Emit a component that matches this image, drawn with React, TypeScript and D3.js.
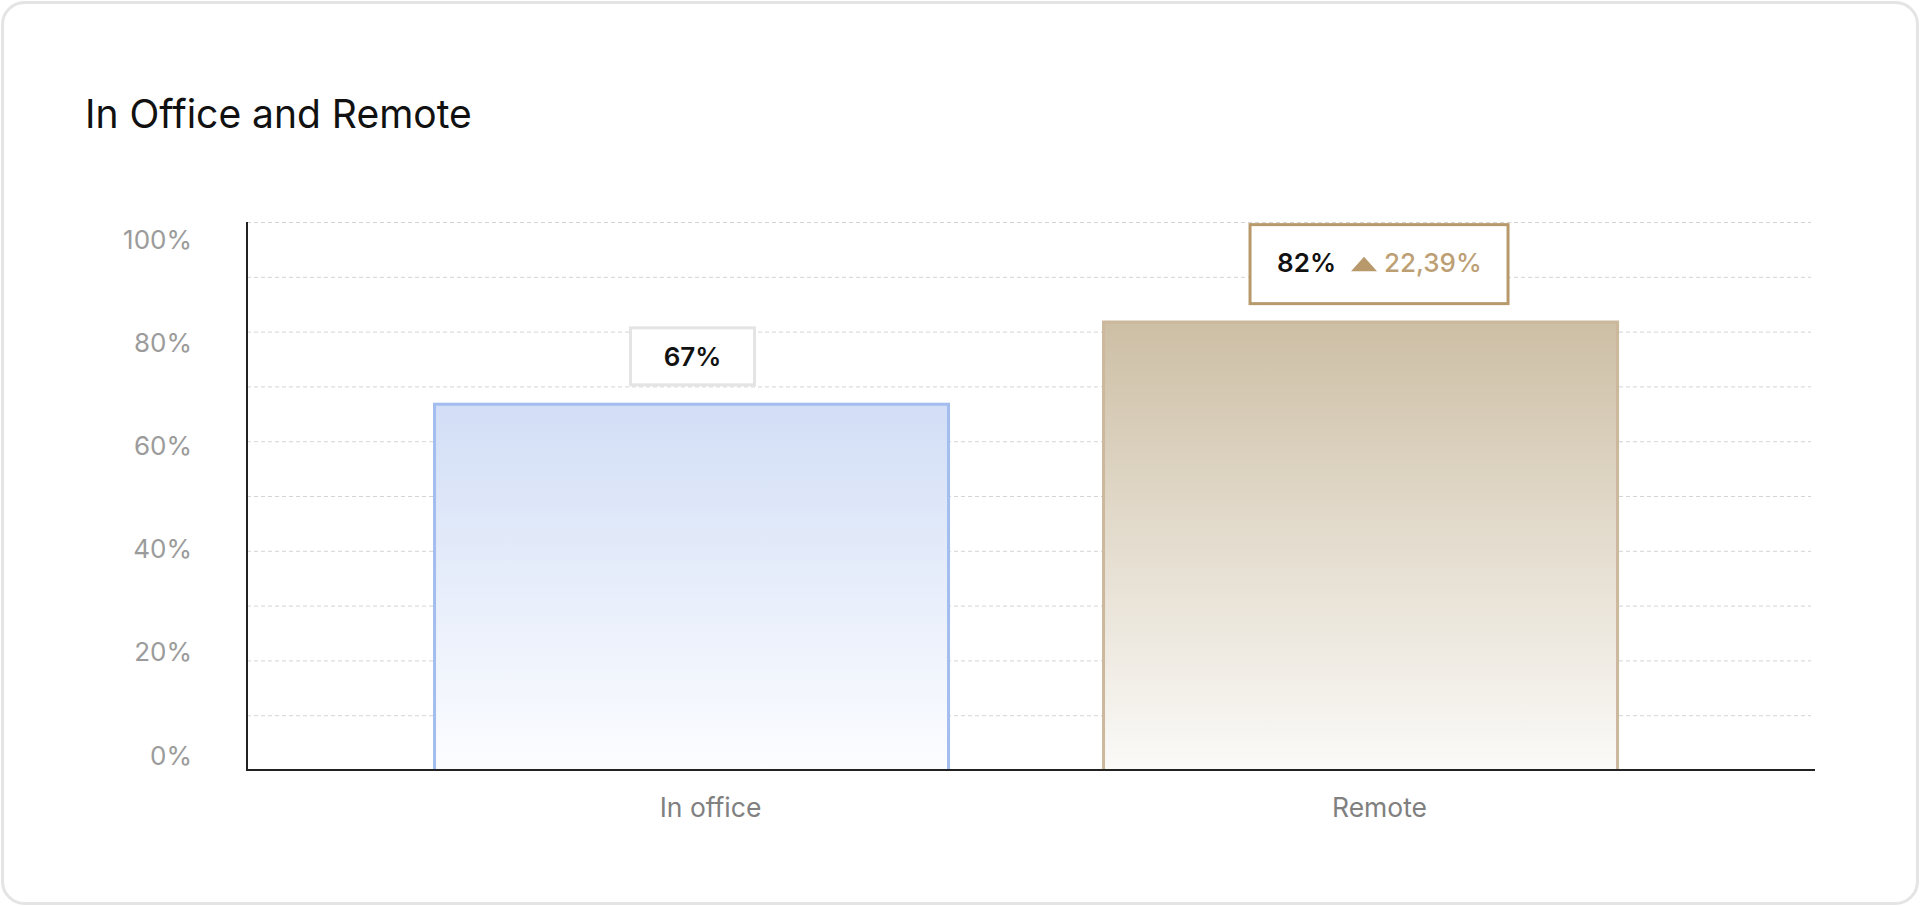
import React from "react";
import * as d3 from "d3";

const categories = ["In office", "Remote"];
const values = [67, 82];
const yTickLabels = [0, 20, 40, 60, 80, 100];
const changeText = "22,39%";
const title = "In Office and Remote";

const W = 1920;
const H = 906;
const plot = { left: 247, right: 1815, top: 222, bottom: 770 };
const FONT = "Inter, 'Noto Sans', sans-serif";

export default function App() {
  const y = d3.scaleLinear().domain([0, 100]).range([plot.bottom, plot.top]);
  const yLab = d3.scaleLinear().domain([0, 100]).range([755, 239]);
  const x = d3
    .scaleBand<string>()
    .domain(categories)
    .range([plot.left, plot.right])
    .paddingInner(0.2272)
    .paddingOuter(0.2855)
    .align(0.487);
  const bw = x.bandwidth();
  const grid = y.ticks(10);

  const styles = [
    { grad: "gOffice", top: "#d2def6", bottom: "#fcfdff", stroke: "#a2bdee", box: "#e4e4e4" },
    { grad: "gRemote", top: "#cdbfa5", bottom: "#fbfaf8", stroke: "#cbb89d", box: "#b7996c" },
  ];

  return (
    <svg
      width={W}
      height={H}
      style={{ position: "absolute", left: 0, top: 0, background: "#fff" }}
      fontFamily={FONT}
    >
      <defs>
        {styles.map((s) => (
          <linearGradient key={s.grad} id={s.grad} x1="0" y1="0" x2="0" y2="1">
            <stop offset="0%" stopColor={s.top} />
            <stop offset="100%" stopColor={s.bottom} />
          </linearGradient>
        ))}
      </defs>
      <rect x={2.5} y={2.5} width={W - 5} height={H - 5} rx={22} fill="#fff" stroke="#e4e4e4" strokeWidth={3} />
      <text x={85} y={128} fontSize={39} fill="#111">{title}</text>

      {grid.map((t) => (
        <line
          key={t}
          x1={plot.left}
          x2={plot.right - 4}
          y1={y(t) + 0.5}
          y2={y(t) + 0.5}
          stroke="#d4d4d4"
          strokeWidth={1}
          strokeDasharray="4 3"
        />
      ))}

      {yTickLabels.map((t) => (
        <text
          key={t}
          x={192}
          y={yLab(t)}
          textAnchor="end"
          dominantBaseline="central"
          fontSize={26}
          fill="#9b9b9b"
        >
          {t}%
        </text>
      ))}

      {categories.map((c, i) => {
        const s = styles[i];
        const x0 = x(c)!;
        const yTop = y(values[i]);
        const cx = x0 + bw / 2;
        const hasDelta = i === 1;
        const bx = cx + 18.5 - 129;
        return (
          <g key={c}>
            <rect x={x0} y={yTop} width={bw} height={plot.bottom - yTop} fill={`url(#${s.grad})`} />
            <path
              d={`M${x0 + 1.5},${plot.bottom} V${yTop + 1.5} H${x0 + bw - 1.5} V${plot.bottom}`}
              fill="none"
              stroke={s.stroke}
              strokeWidth={3}
            />
            {!hasDelta ? (
              <g>
                <rect x={cx + 1 - 62} y={yTop - 18 - 57} width={124} height={57} fill="#fff" stroke={s.box} strokeWidth={3} />
                <text
                  x={cx + 1}
                  y={yTop - 18 - 28.5}
                  textAnchor="middle"
                  dominantBaseline="central"
                  fontSize={26}
                  fontWeight={600}
                  fill="#111"
                >
                  {values[i]}%
                </text>
              </g>
            ) : (
              <g>
                <rect x={bx} y={yTop - 17 - 79} width={258} height={79} fill="#fff" stroke={s.box} strokeWidth={3} />
                <text
                  x={bx + 27}
                  y={yTop - 17 - 39.5 - 2}
                  dominantBaseline="central"
                  fontSize={26}
                  fontWeight={600}
                  fill="#111"
                >
                  {values[i]}%
                </text>
                <path
                  d={`M${bx + 101},${yTop - 17 - 39.5 + 7} l13,-14.5 l13,14.5 Z`}
                  fill="#b7996c"
                />
                <text
                  x={bx + 134}
                  y={yTop - 17 - 39.5 - 2}
                  dominantBaseline="central"
                  fontSize={26}
                  fontWeight={500}
                  fill="#bd9f76"
                >
                  {changeText}
                </text>
              </g>
            )}
            <text
              x={cx + 19}
              y={807}
              textAnchor="middle"
              dominantBaseline="central"
              fontSize={26.5}
              fill="#808080"
            >
              {c}
            </text>
          </g>
        );
      })}

      <line x1={plot.left} x2={plot.left} y1={plot.top} y2={plot.bottom + 1} stroke="#222" strokeWidth={2} />
      <line x1={plot.left} x2={plot.right} y1={plot.bottom} y2={plot.bottom} stroke="#222" strokeWidth={2} />
    </svg>
  );
}
